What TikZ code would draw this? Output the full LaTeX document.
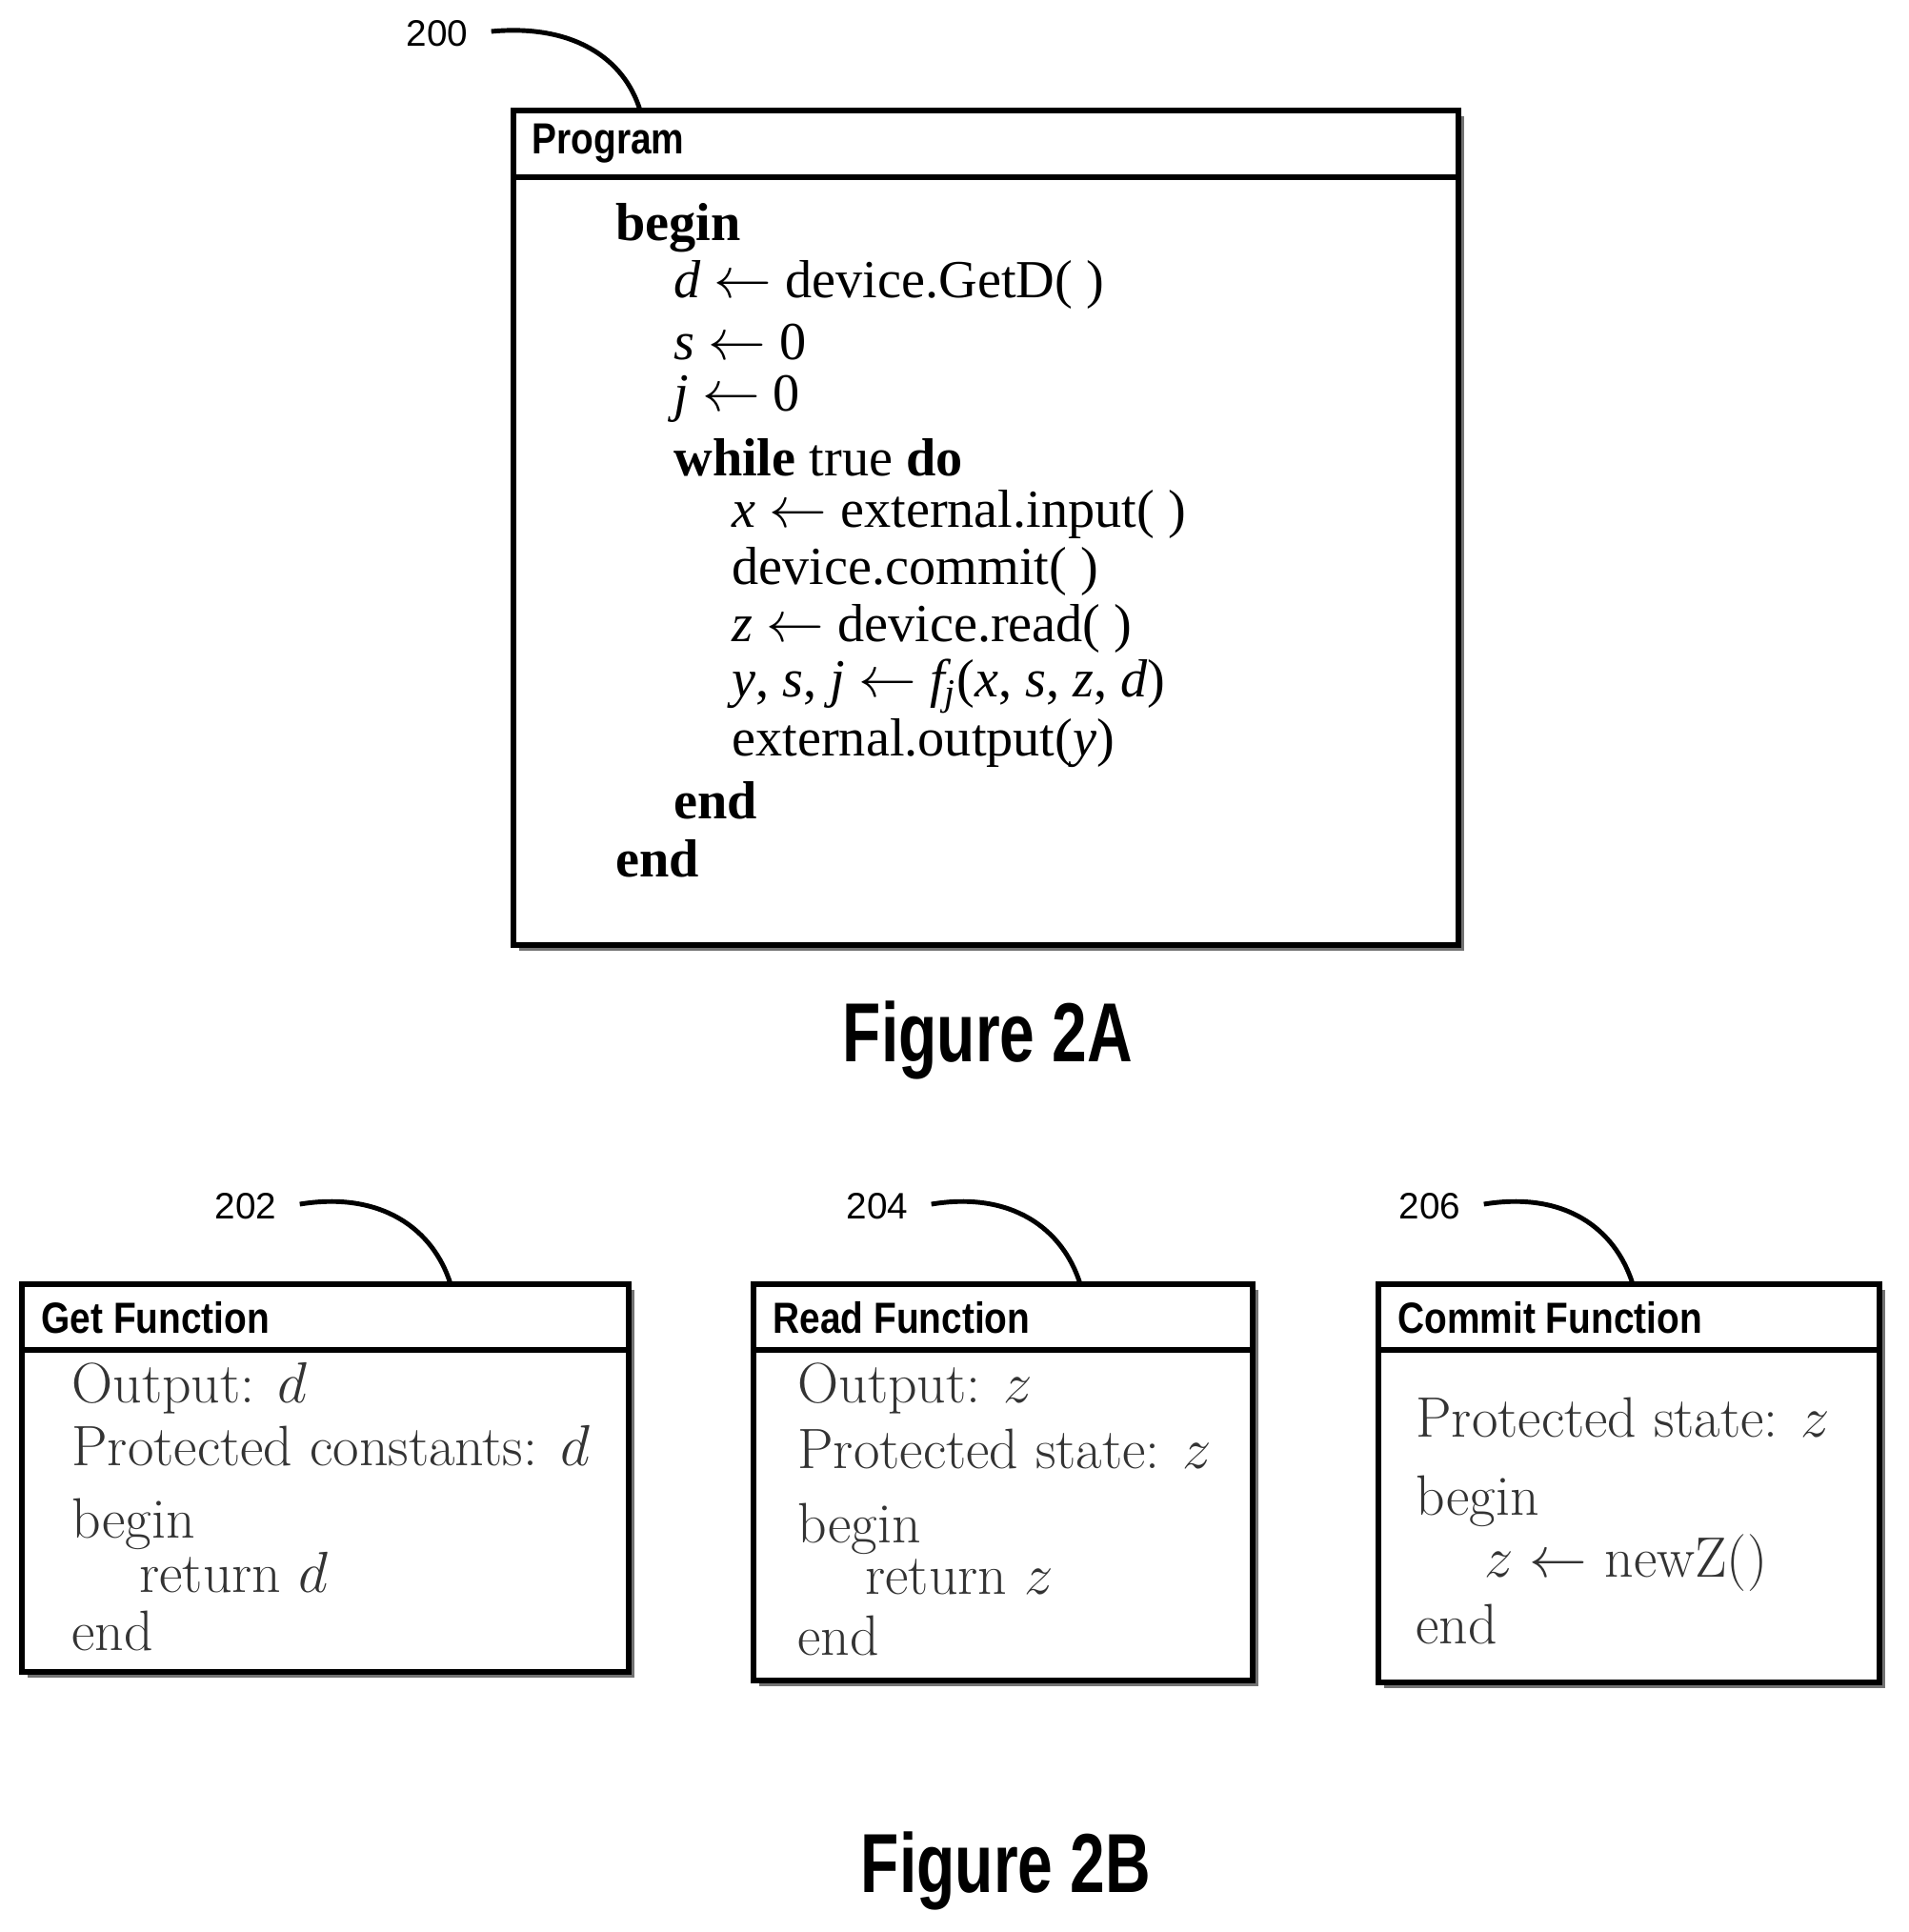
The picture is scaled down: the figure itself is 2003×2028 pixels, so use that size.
\documentclass[tikz,border=0pt]{standalone}
\usepackage{fontspec}
\setmainfont{Liberation Serif}
\newfontfamily\labelfont{Liberation Sans}
\newfontfamily\lmfont{Latin Modern Roman}
\begin{document}
\begin{tikzpicture}[x=0.01cm, y=-0.01cm,
    box/.style = {draw, line width=1.6pt, fill=white},
    shade/.style = {fill=black!55},
    title/.style = {anchor=west, font=\labelfont\bfseries\fontsize{13}{15}\selectfont, xscale=0.85},
    code/.style = {anchor=west, font=\fontsize{16}{18}\selectfont},
    lmtext/.style = {anchor=west, font=\lmfont\fontsize{17}{20}\selectfont, text=black!80},
    refnum/.style = {font=\labelfont\fontsize{11}{13}\selectfont},
    figlabel/.style = {font=\labelfont\bfseries\fontsize{25}{28}\selectfont, xscale=0.75},
    leader/.style = {line width=1.4pt}]
    \useasboundingbox (0, 0) rectangle (2003, 2028);

    % Figure 2A
    \fill [shade] (545, 122) rectangle (1537, 998);
    \draw [box] (539, 116) rectangle (1531, 992);
    \draw [line width=1.6pt] (539, 186) -- (1531, 186);
    \node [title] (prog) at (548, 151) {Program};
    \node [refnum] (n200) at (459, 35) {200};
    \coordinate (t200) at (672, 116);
    \draw [leader] (n200.east) ++(12, -2) .. controls (600, 25) and (655, 60) .. (t200);
    \node [code, font=\fontsize{16}{18}\selectfont\bfseries] at (634, 239) {begin};
    \node [code] at (695, 299) {\textit{d} $\leftarrow$ device.GetD( )};
    \node [code] at (695, 359) {\textit{s} $\leftarrow$ 0};
    \node [code] at (695, 419) {\textit{j} $\leftarrow$ 0};
    \node [code] at (695, 480) {\textbf{while} true \textbf{do}};
    \node [code] at (756, 540) {\textit{x} $\leftarrow$ external.input( )};
    \node [code] at (756, 600) {device.commit( )};
    \node [code] at (756, 660) {\textit{z} $\leftarrow$ device.read( )};
    \node [code] at (756, 720) {\textit{y}, \textit{s}, \textit{j} $\leftarrow$ \textit{f\textsubscript{j}}(\textit{x}, \textit{s}, \textit{z}, \textit{d})};
    \node [code] at (756, 780) {external.output(\textit{y})};
    \node [code, font=\fontsize{16}{18}\selectfont\bfseries] at (695, 840) {end};
    \node [code, font=\fontsize{16}{18}\selectfont\bfseries] at (634, 901) {end};
    \node [figlabel] (fig2a) at (1037, 1092) {Figure 2A};

    % Figure 2B: get function
    \fill [shade] (29, 1354) rectangle (666, 1761);
    \draw [box] (23, 1348) rectangle (660, 1755);
    \draw [line width=1.6pt] (23, 1417) -- (660, 1417);
    \node [title] (get) at (33, 1383) {Get Function};
    \node [refnum] (n202) at (258, 1266) {202};
    \coordinate (t202) at (473, 1348);
    \draw [leader] (n202.east) ++(12, -2) .. controls (400, 1250) and (455, 1290) .. (t202);
    \node [lmtext] at (63, 1457) {Output: $d$};
    \node [lmtext] at (63, 1518) {Protected constants: $d$};
    \node [lmtext] at (63, 1600) {begin};
    \node [lmtext] at (134, 1651) {return $d$};
    \node [lmtext] at (63, 1712) {end};

    % read function
    \fill [shade] (797, 1354) rectangle (1321, 1770);
    \draw [box] (791, 1348) rectangle (1315, 1764);
    \draw [line width=1.6pt] (791, 1417) -- (1315, 1417);
    \node [title] (read) at (801, 1383) {Read Function};
    \node [refnum] (n204) at (921, 1266) {204};
    \coordinate (t204) at (1134, 1348);
    \draw [leader] (n204.east) ++(12, -2) .. controls (1062, 1250) and (1116, 1290) .. (t204);
    \node [lmtext] at (825, 1457) {Output: $z$};
    \node [lmtext] at (825, 1521) {Protected state: $z$};
    \node [lmtext] at (825, 1605) {begin};
    \node [lmtext] at (896, 1655) {return $z$};
    \node [lmtext] at (825, 1717) {end};

    % commit function
    \fill [shade] (1453, 1354) rectangle (1979, 1772);
    \draw [box] (1447, 1348) rectangle (1973, 1766);
    \draw [line width=1.6pt] (1447, 1417) -- (1973, 1417);
    \node [title] (commit) at (1457, 1383) {Commit Function};
    \node [refnum] (n206) at (1501, 1266) {206};
    \coordinate (t206) at (1714, 1348);
    \draw [leader] (n206.east) ++(12, -2) .. controls (1643, 1250) and (1696, 1290) .. (t206);
    \node [lmtext] at (1474, 1488) {Protected state: $z$};
    \node [lmtext] at (1474, 1576) {begin};
    \node [lmtext] at (1546, 1641) {$z \leftarrow$ newZ()};
    \node [lmtext] at (1474, 1705) {end};
    \node [figlabel] (fig2b) at (1056, 1964) {Figure 2B};
\end{tikzpicture}
\end{document}
